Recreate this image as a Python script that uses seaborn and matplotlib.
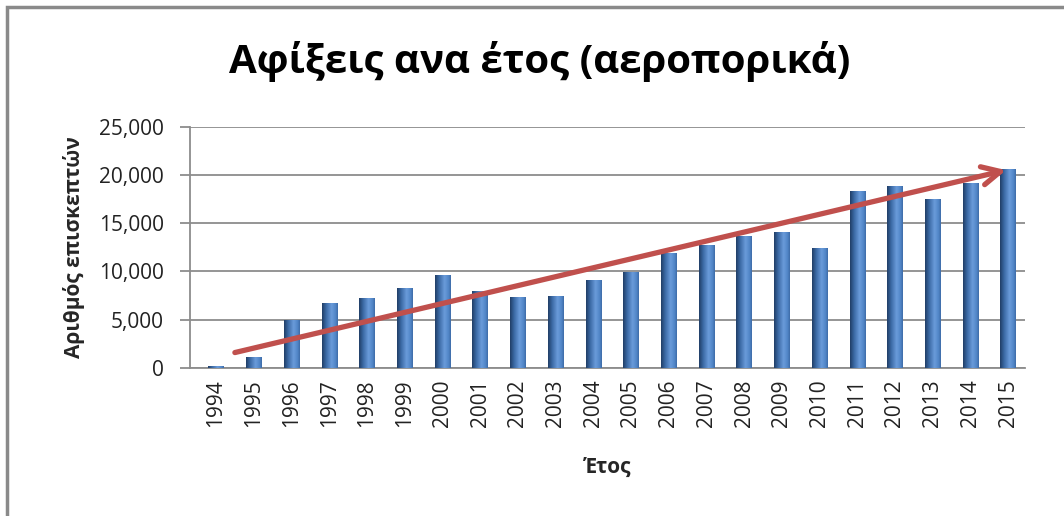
import matplotlib
matplotlib.use("Agg")
import matplotlib.pyplot as plt
import seaborn as sns
import pandas as pd
import numpy as np
from matplotlib.patches import Rectangle
from matplotlib.colors import LinearSegmentedColormap

years = [str(y) for y in range(1994, 2016)]
visitors = [200, 1100, 4950, 6700, 7300, 8300, 9650, 8000, 7350, 7500, 9100,
            9950, 11900, 12700, 13700, 14050, 12400, 18350, 18850, 17550, 19150, 20650]
y_ticks = [0, 5000, 10000, 15000, 20000, 25000]
title = "Αφίξεις ανα έτος (αεροπορικά)"
x_label = "Έτος"
y_label = "Αριθμός επισκεπτών"
# trend arrow endpoints (category index, value)
trend_start = (0.5, 1600)
trend_end = (20.95, 20500)

sns.set_theme(style="white")
plt.rcParams['font.family'] = ['Open Sans', 'DejaVu Sans']

df = pd.DataFrame({"year": years, "visitors": visitors})

W, H = 1064, 516
fig = plt.figure(figsize=(W / 100, H / 100), dpi=100)
ax_l, ax_r, ax_t, ax_b = 190, 1025, 126.7, 368
ax = fig.add_axes([ax_l / W, 1 - ax_b / H, (ax_r - ax_l) / W, (ax_b - ax_t) / H])

sns.barplot(data=df, x="year", y="visitors", ax=ax, color="#4A7EBB",
            width=0.4, saturation=1, edgecolor="none", linewidth=0, zorder=3)

ax.set_ylim(0, 25000)
ax.set_xlim(-0.69, 21.45)

# cylinder-like shading for each bar
cmap = LinearSegmentedColormap.from_list(
    "bar", [(0, "#213E66"), (0.25, "#3A68A3"), (0.6, "#6A9BDA"), (0.85, "#5287C8"), (1, "#3E6CA8")])
grad = np.linspace(0, 1, 64).reshape(1, -1)
for p in list(ax.patches):
    x0, y0 = p.get_x(), p.get_y()
    w, h = p.get_width(), p.get_height()
    im = ax.imshow(grad, cmap=cmap, aspect="auto", extent=(x0, x0 + w, y0, y0 + h),
                   zorder=3.5, interpolation="bilinear")
    im.set_clip_path(p)
ax.set_xlim(-0.69, 21.45)
ax.set_ylim(0, 25000)

ax.set_yticks(y_ticks)
ax.set_yticklabels([f"{v:,}" for v in y_ticks], fontsize=15, color="#222222")
ax.tick_params(axis="x", labelrotation=90, labelsize=15, labelcolor="#222222", length=0, pad=8)
ax.tick_params(axis="y", length=7, width=1.3, color="#8c8c8c", direction="out", pad=12, left=True)
ax.yaxis.grid(True, color="#8c8c8c", linewidth=1.3)
ax.set_axisbelow(True)
for s in ["top", "right"]:
    ax.spines[s].set_visible(False)
ax.spines["left"].set_color("#8c8c8c")
ax.spines["left"].set_linewidth(1.3)
ax.spines["bottom"].set_color("#8c8c8c")
ax.spines["bottom"].set_linewidth(1.3)

ax.set_xlabel(x_label, fontsize=15, fontweight="bold", labelpad=22)
ax.set_ylabel(y_label, fontsize=15, fontweight="bold", labelpad=10)

ax.annotate("", xy=trend_end, xytext=trend_start,
            arrowprops=dict(arrowstyle="->,head_length=1.1,head_width=0.55", color="#C0504D",
                            lw=3.8, shrinkA=0, shrinkB=0, capstyle="round", joinstyle="round"),
            zorder=5)

fig.text(540 / W, 1 - 62 / H, title, fontsize=29, fontweight="bold",
         ha="center", va="center", color="black")

fig.patches.append(Rectangle((7 / W, -0.1), 1.2, 1.1 - 7 / H, transform=fig.transFigure,
                             fill=False, edgecolor="#8a8a8a", linewidth=2.5))

fig.savefig("out.png", dpi=100)
